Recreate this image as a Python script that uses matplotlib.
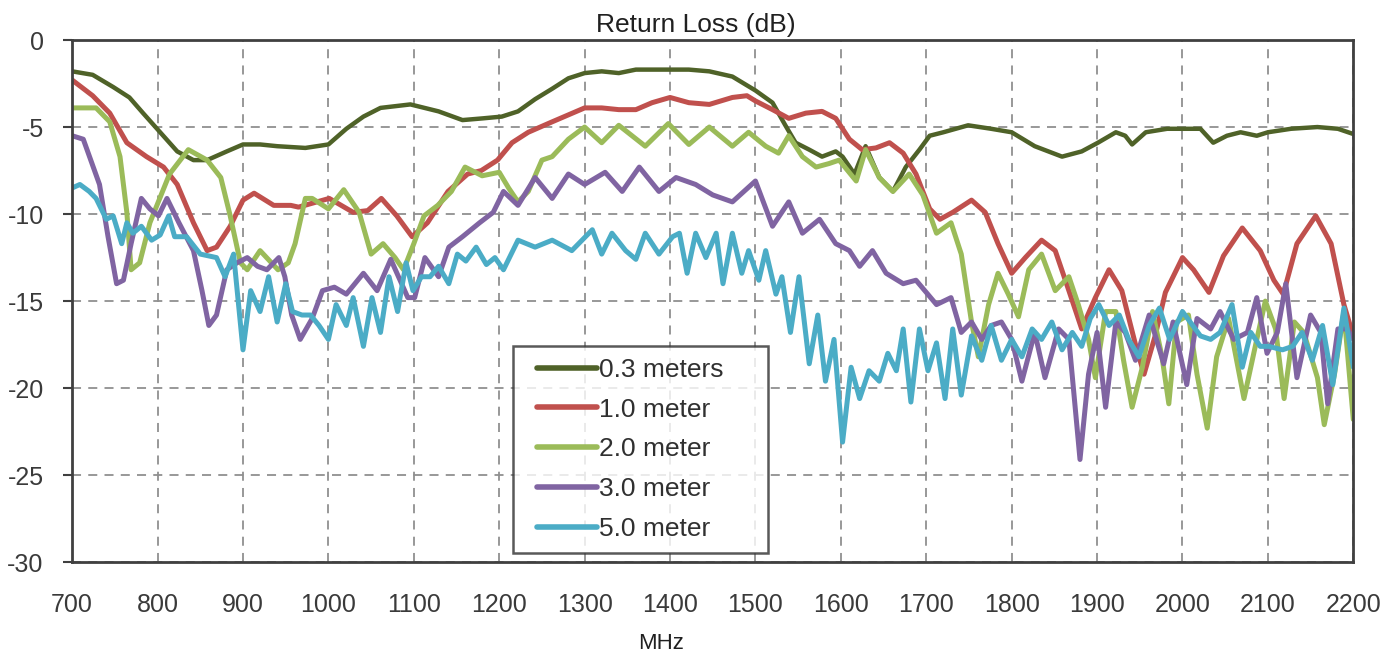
import matplotlib
matplotlib.use("Agg")
import matplotlib.pyplot as plt
from matplotlib.legend_handler import HandlerLine2D

plt.rcParams["font.family"] = ["Liberation Sans", "DejaVu Sans"]
plt.rcParams["axes.unicode_minus"] = False

# 0.3 meters
f_03 = [700, 724, 748, 767, 783, 803, 823, 842, 858, 881, 900, 920, 940, 973,
        1000, 1021, 1041, 1061, 1096, 1129, 1157, 1181, 1203, 1222, 1242, 1262,
        1281, 1300, 1320, 1340, 1360, 1379, 1400, 1422, 1446, 1473, 1500, 1520,
        1535, 1547, 1563, 1578, 1594, 1602, 1616, 1629, 1645, 1661, 1676, 1692,
        1704, 1720, 1749, 1776, 1800, 1827, 1859, 1882, 1901, 1922, 1933, 1941,
        1957, 1982, 2000, 2021, 2036, 2052, 2068, 2087, 2100, 2127, 2158, 2182,
        2200]
rl_03 = [-1.8, -2.0, -2.7, -3.3, -4.2, -5.3, -6.4, -6.9, -6.9, -6.4, -6.0, -6.0,
         -6.1, -6.2, -6.0, -5.1, -4.4, -3.9, -3.7, -4.1, -4.6, -4.5, -4.4, -4.1,
         -3.4, -2.8, -2.2, -1.9, -1.8, -1.9, -1.7, -1.7, -1.7, -1.7, -1.8, -2.1,
         -2.9, -3.6, -4.9, -5.9, -6.3, -6.7, -6.4, -6.7, -7.7, -6.1, -7.9, -8.7,
         -7.3, -6.3, -5.5, -5.3, -4.9, -5.1, -5.3, -6.1, -6.7, -6.4, -5.9, -5.3,
         -5.5, -6.0, -5.3, -5.1, -5.1, -5.1, -5.9, -5.5, -5.3, -5.5, -5.3, -5.1,
         -5.0, -5.1, -5.4]

# 1.0 meter
f_10 = [700, 724, 744, 764, 787, 807, 823, 842, 858, 869, 885, 900, 913, 936,
        956, 965, 1001, 1029, 1046, 1062, 1080, 1098, 1116, 1140, 1163, 1179,
        1198, 1215, 1234, 1262, 1281, 1300, 1320, 1340, 1360, 1379, 1400, 1422,
        1446, 1473, 1490, 1500, 1520, 1539, 1559, 1578, 1594, 1610, 1625, 1641,
        1657, 1673, 1688, 1704, 1716, 1731, 1753, 1769, 1784, 1800, 1816, 1835,
        1851, 1867, 1882, 1898, 1914, 1929, 1945, 1955, 1968, 1980, 2000, 2013,
        2031, 2048, 2070, 2091, 2107, 2118, 2134, 2156, 2174, 2189, 2200]
rl_10 = [-2.3, -3.2, -4.2, -5.9, -6.7, -7.3, -8.3, -10.5, -12.1, -11.9, -10.7,
         -9.2, -8.8, -9.5, -9.5, -9.6, -9.1, -9.9, -9.8, -9.1, -10.1, -11.3,
         -10.5, -8.7, -7.7, -7.5, -6.9, -5.9, -5.3, -4.7, -4.3, -3.9, -3.9, -4.0,
         -4.0, -3.6, -3.3, -3.6, -3.7, -3.3, -3.2, -3.5, -4.0, -4.5, -4.2, -4.1,
         -4.5, -5.7, -6.3, -6.2, -5.9, -6.5, -7.7, -9.7, -10.3, -9.9, -9.2, -9.9,
         -11.7, -13.4, -12.5, -11.5, -12.1, -14.4, -16.6, -14.8, -13.2, -14.4,
         -17.5, -19.2, -17.0, -14.5, -12.5, -13.2, -14.5, -12.4, -10.8, -12.1,
         -13.8, -14.6, -11.7, -10.1, -11.7, -15.2, -17.0]

# 2.0 meter
f_20 = [700, 728, 744, 756, 764, 769, 779, 791, 814, 836, 858, 874, 885, 897,
        905, 920, 941, 953, 961, 973, 981, 1000, 1018, 1036, 1050, 1064, 1078,
        1088, 1100, 1112, 1128, 1144, 1160, 1180, 1200, 1211, 1222, 1234, 1250,
        1262, 1281, 1300, 1320, 1340, 1371, 1398, 1422, 1446, 1473, 1492, 1512,
        1527, 1539, 1555, 1571, 1586, 1598, 1618, 1629, 1645, 1661, 1680, 1696,
        1712, 1729, 1741, 1753, 1761, 1773, 1784, 1796, 1808, 1820, 1835, 1851,
        1867, 1878, 1890, 1898, 1910, 1922, 1931, 1941, 1953, 1965, 1976, 1984,
        1993, 2007, 2017, 2029, 2040, 2054, 2072, 2087, 2097, 2109, 2119, 2131,
        2142, 2158, 2166, 2178, 2189, 2200]
rl_20 = [-3.9, -3.9, -4.7, -6.7, -9.9, -13.2, -12.8, -10.5, -7.7, -6.3, -6.9,
         -7.9, -10.1, -12.8, -13.2, -12.1, -13.2, -12.8, -11.7, -9.1, -9.1, -9.7,
         -8.6, -9.9, -12.3, -11.7, -12.5, -13.2, -11.7, -10.1, -9.5, -8.7, -7.3,
         -7.8, -7.6, -8.5, -9.3, -8.7, -6.9, -6.7, -5.7, -5.0, -5.9, -4.9, -6.1,
         -4.8, -6.0, -5.0, -6.1, -5.3, -6.1, -6.5, -5.5, -6.7, -7.3, -7.1, -6.9,
         -8.1, -6.3, -7.9, -8.7, -7.7, -8.9, -11.1, -10.5, -12.3, -16.2, -18.2,
         -15.2, -13.4, -14.6, -15.9, -13.2, -12.3, -14.4, -13.6, -15.2, -17.2,
         -19.4, -15.6, -15.6, -18.4, -21.1, -18.8, -15.6, -18.2, -20.9, -16.2,
         -15.8, -19.2, -22.3, -18.2, -16.0, -20.6, -17.2, -15.0, -16.6, -20.6,
         -16.2, -16.8, -19.4, -22.1, -19.2, -15.6, -21.8]

# 3.0 meter
f_30 = [700, 713, 732, 742, 752, 760, 769, 781, 791, 801, 811, 825, 842, 852,
        860, 869, 881, 893, 905, 917, 928, 942, 949, 957, 967, 981, 993, 1007,
        1021, 1041, 1057, 1073, 1093, 1101, 1113, 1129, 1141, 1157, 1177, 1193,
        1205, 1222, 1242, 1262, 1281, 1300, 1324, 1344, 1364, 1387, 1407, 1430,
        1450, 1473, 1500, 1520, 1539, 1555, 1575, 1594, 1610, 1622, 1637, 1653,
        1673, 1688, 1712, 1729, 1741, 1753, 1765, 1776, 1788, 1800, 1812, 1827,
        1839, 1855, 1867, 1880, 1890, 1900, 1910, 1922, 1933, 1945, 1961, 1978,
        1989, 2005, 2017, 2033, 2044, 2060, 2076, 2087, 2099, 2111, 2121, 2134,
        2150, 2162, 2170, 2182, 2193, 2200]
rl_30 = [-5.5, -5.7, -8.3, -11.3, -14.0, -13.8, -11.7, -9.1, -9.7, -10.1, -9.1,
         -10.5, -12.1, -14.4, -16.4, -15.8, -13.2, -12.8, -12.5, -13.0, -13.2,
         -12.5, -13.6, -15.8, -17.2, -16.0, -14.4, -14.2, -14.6, -13.4, -14.4,
         -12.6, -14.8, -14.8, -12.5, -13.6, -11.9, -11.3, -10.5, -9.9, -8.7,
         -9.5, -7.9, -9.1, -7.7, -8.3, -7.6, -8.7, -7.3, -8.7, -7.9, -8.3, -8.9,
         -9.3, -8.1, -10.7, -9.3, -11.1, -10.3, -11.7, -12.1, -13.0, -12.1,
         -13.4, -14.0, -13.8, -15.2, -14.8, -16.8, -16.2, -17.2, -16.4, -16.2,
         -17.2, -19.6, -16.8, -19.4, -16.6, -17.2, -24.1, -19.2, -16.8, -21.1,
         -16.2, -16.8, -18.4, -15.8, -18.6, -16.2, -19.8, -16.0, -16.6, -15.6,
         -17.2, -16.8, -14.8, -18.0, -16.8, -14.0, -19.4, -15.8, -16.8, -20.9,
         -16.6, -16.6, -17.2]

# 5.0 meter
f_50 = [700, 709, 720, 728, 740, 748, 758, 764, 771, 781, 793, 803, 813, 820,
        834, 850, 869, 879, 889, 900, 909, 920, 930, 940, 950, 958, 969, 979,
        989, 1000, 1009, 1021, 1029, 1041, 1051, 1061, 1071, 1081, 1091, 1099,
        1109, 1119, 1129, 1141, 1151, 1161, 1173, 1185, 1195, 1205, 1222, 1242,
        1262, 1285, 1309, 1320, 1332, 1348, 1360, 1371, 1387, 1403, 1411, 1420,
        1430, 1442, 1454, 1462, 1473, 1484, 1492, 1504, 1512, 1524, 1531, 1541,
        1551, 1563, 1573, 1582, 1592, 1602, 1612, 1622, 1633, 1645, 1655, 1665,
        1673, 1682, 1692, 1702, 1712, 1722, 1731, 1741, 1753, 1765, 1776, 1788,
        1800, 1812, 1824, 1835, 1847, 1859, 1871, 1882, 1892, 1902, 1914, 1926,
        1937, 1949, 1961, 1973, 1985, 2000, 2009, 2021, 2033, 2044, 2058, 2070,
        2080, 2091, 2101, 2117, 2129, 2140, 2152, 2164, 2176, 2189, 2200]
rl_50 = [-8.5, -8.3, -8.7, -9.1, -10.3, -10.1, -11.7, -10.5, -11.1, -10.7, -11.5,
         -11.2, -10.1, -11.3, -11.3, -12.3, -12.5, -13.6, -12.3, -17.8, -14.4,
         -15.6, -13.6, -16.2, -14.0, -15.6, -15.8, -15.8, -16.4, -17.2, -15.2,
         -16.4, -14.8, -17.6, -14.8, -16.8, -13.6, -15.6, -12.8, -14.4, -13.6,
         -13.6, -13.0, -14.0, -12.3, -12.7, -11.9, -12.9, -12.5, -13.2, -11.5,
         -11.9, -11.5, -12.1, -10.9, -12.3, -11.1, -12.1, -12.6, -11.1, -12.3,
         -11.3, -11.1, -13.4, -11.1, -12.5, -11.1, -14.0, -11.1, -13.4, -12.1,
         -13.8, -12.1, -14.6, -13.6, -16.8, -13.6, -18.6, -15.8, -19.6, -17.2,
         -23.1, -18.8, -20.6, -19.0, -19.6, -18.0, -19.0, -16.6, -20.8, -16.6,
         -19.0, -17.4, -20.6, -16.6, -20.4, -17.0, -18.4, -16.4, -18.4, -17.2,
         -18.2, -16.6, -17.2, -16.2, -17.8, -16.8, -17.6, -16.0, -15.2, -16.4,
         -15.8, -17.2, -18.2, -16.4, -15.4, -17.2, -15.6, -16.2, -17.0, -17.2,
         -16.8, -15.2, -18.8, -16.8, -17.6, -17.6, -17.8, -17.6, -16.8, -18.4,
         -16.4, -19.8, -15.4, -18.8]

series = [
    (f_03, rl_03, "0.3 meters", "#4F6228", 3.2),
    (f_10, rl_10, "1.0 meter", "#C0504D", 3.6),
    (f_20, rl_20, "2.0 meter", "#9BBB59", 3.6),
    (f_30, rl_30, "3.0 meter", "#8064A2", 3.6),
    (f_50, rl_50, "5.0 meter", "#4BACC6", 3.6),
]

fig = plt.figure(figsize=(13.88, 6.56), dpi=100)
ax = fig.add_axes([0.052, 0.143, 0.923, 0.796])

for f, rl, label, color, lw in series:
    ax.plot(f, rl, color=color, lw=lw, label=label,
            solid_joinstyle="round", solid_capstyle="round")

ax.set_xlim(700, 2200)
ax.set_ylim(-30, 0)
ax.set_xticks(range(700, 2201, 100))
ax.set_yticks(range(-30, 1, 5))
ax.grid(True, color="#909090", linestyle=(0, (5, 4)), linewidth=1.3)
ax.tick_params(axis="y", labelsize=18, length=6.5, width=1.5, pad=14,
               colors="#404040", labelcolor="#3a3a3a")
ax.tick_params(axis="x", labelsize=18, length=0, pad=22,
               labelcolor="#3a3a3a")
for s in ax.spines.values():
    s.set_color("#404040")
    s.set_linewidth(2)

ax.set_title("Return Loss (dB)", fontsize=19, pad=6, color="#202020", x=0.487)
ax.set_xlabel("MHz", fontsize=16, color="#202020")
ax.xaxis.set_label_coords(0.46, -0.136)

# positive xpad pushes the legend line away from the box's left edge
leg = ax.legend(loc="lower left", bbox_to_anchor=(0.3696, 0.157, 0.184, 0.31),
                bbox_transform=fig.transFigure, mode="expand", fontsize=19,
                frameon=True, fancybox=False, handlelength=2.73,
                handletextpad=0.08, labelspacing=0.6, borderpad=0.45,
                borderaxespad=0,
                handler_map={plt.Line2D: HandlerLine2D(xpad=0.45)})
leg.get_frame().set_edgecolor("#303030")
leg.get_frame().set_linewidth(1.8)
for text in leg.get_texts():
    text.set_color("#303030")
for line in leg.get_lines():
    line.set_linewidth(4)

fig.savefig("out.png", dpi=100)
